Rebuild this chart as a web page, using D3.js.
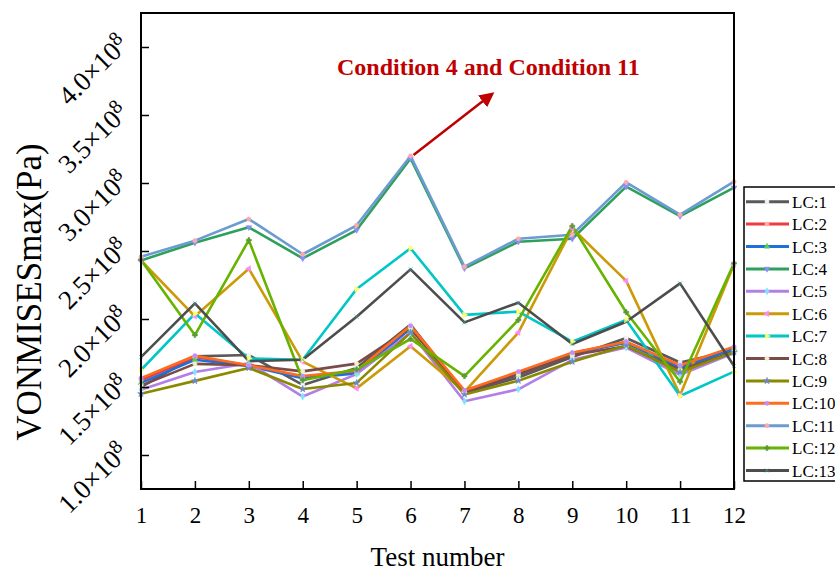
<!DOCTYPE html>
<html>
<head>
<meta charset="utf-8">
<script src="https://cdn.jsdelivr.net/npm/d3@7/dist/d3.min.js"></script>
<style>
  html, body { margin: 0; padding: 0; background: #fff; }
  svg { display: block; }
  text { font-family: "Liberation Serif", "Times New Roman", serif; }
</style>
</head>
<body>
<svg id="chart" width="835" height="572"></svg>
<script>
// Test numbers along the x axis
const tests = [1, 2, 3, 4, 5, 6, 7, 8, 9, 10, 11, 12];

// Maximum von Mises stress per load case, in units of 1e8 Pa
const LC1  = [1.50, 1.725, 1.735, 1.515, 1.64, 1.96, 1.455, 1.57, 1.72, 1.86, 1.68, 1.77];
const LC2  = [1.55, 1.72, 1.66, 1.57, 1.61, 1.945, 1.47, 1.605, 1.75, 1.83, 1.655, 1.79];
const LC3  = [1.53, 1.70, 1.655, 1.565, 1.60, 1.93, 1.465, 1.59, 1.745, 1.825, 1.64, 1.78];
const LC4  = [2.43, 2.561, 2.674, 2.446, 2.654, 3.18, 2.373, 2.568, 2.59, 2.973, 2.757, 2.966];
const LC5  = [1.48, 1.61, 1.675, 1.43, 1.595, 1.90, 1.395, 1.483, 1.70, 1.79, 1.59, 1.75];
const LC6  = [2.43, 2.02, 2.37, 1.686, 1.49, 1.80, 1.465, 1.90, 2.667, 2.28, 1.44, 2.40];
const LC7  = [1.625, 2.04, 1.71, 1.70, 2.22, 2.52, 2.03, 2.054, 1.833, 1.993, 1.434, 1.613];
const LC8  = [1.51, 1.67, 1.66, 1.615, 1.672, 1.935, 1.46, 1.59, 1.735, 1.80, 1.625, 1.76];
const LC9  = [1.45, 1.545, 1.64, 1.485, 1.53, 1.90, 1.445, 1.546, 1.686, 1.805, 1.61, 1.755];
const LC10 = [1.565, 1.73, 1.66, 1.58, 1.62, 1.95, 1.475, 1.613, 1.752, 1.833, 1.66, 1.797];
const LC11 = [2.458, 2.576, 2.735, 2.476, 2.689, 3.199, 2.385, 2.59, 2.62, 3.005, 2.767, 3.01];
const LC12 = [2.434, 1.882, 2.58, 1.55, 1.63, 1.853, 1.58, 1.993, 2.684, 2.05, 1.539, 2.41];
const LC13 = [1.72, 2.115, 1.69, 1.70, 2.017, 2.365, 1.975, 2.12, 1.816, 1.98, 2.262, 1.655];

const seriesNames = ["LC:1", "LC:2", "LC:3", "LC:4", "LC:5", "LC:6", "LC:7",
                     "LC:8", "LC:9", "LC:10", "LC:11", "LC:12", "LC:13"];
const seriesValues = [LC1, LC2, LC3, LC4, LC5, LC6, LC7, LC8, LC9, LC10, LC11, LC12, LC13];
const seriesColors = ["#595959", "#ef3b3b", "#1f6fdc", "#2f9f5c", "#b37fe4", "#cc9a08",
                      "#00c6c6", "#7a4c48", "#8a8a00", "#ff6b1f", "#6b9bd1", "#66b300", "#4d4d4d"];
const markerFills  = ["#f4f4f4", "#ffb0b0", "#55d055", "#8c8cff", "#7fe4ff", "#ff88ff",
                      "#ffff70", "#f2f0c8", "#6f86c8", "#c48cff", "#ffa8a8", "#5a9a3a", "#45a8a8"];
const markerShapes = [d3.symbolSquare, d3.symbolCircle, d3.symbolTriangle, d3.symbolTriangle,
                      d3.symbolDiamond, d3.symbolTriangle, d3.symbolTriangle, d3.symbolCircle,
                      d3.symbolStar, d3.symbolCircle, d3.symbolCircle, d3.symbolCross, d3.symbolX];
const markerRotate = [0, 0, 0, 180, 0, -90, 90, 0, 0, 0, 0, 0, 0];

const yTicks = [1.0, 1.5, 2.0, 2.5, 3.0, 3.5, 4.0];
const annotation = "Condition 4 and Condition 11";

const svg = d3.select("#chart");
const plot = { left: 141, right: 734, top: 13, bottom: 489 };

const x = d3.scaleLinear().domain([1, 12]).range([plot.left, plot.right]);
const y = d3.scaleLinear().domain([0.75, 4.25]).range([plot.bottom, plot.top]);

// Series lines
const line = d3.line().x((d, i) => x(tests[i])).y(d => y(d));
const gSeries = svg.append("g");
seriesValues.forEach((vals, k) => {
  gSeries.append("path")
    .datum(vals)
    .attr("d", line)
    .attr("fill", "none")
    .attr("stroke", seriesColors[k])
    .attr("stroke-width", 2.6)
    .attr("stroke-linejoin", "round");
});
// Small point markers
seriesValues.forEach((vals, k) => {
  const sym = d3.symbol().type(markerShapes[k]).size(14);
  gSeries.selectAll(null)
    .data(vals)
    .join("path")
    .attr("d", sym)
    .attr("transform", (d, i) => `translate(${x(tests[i])},${y(d)}) rotate(${markerRotate[k]})`)
    .attr("fill", markerFills[k])
    .attr("stroke", markerFills[k])
    .attr("stroke-width", 0.6);
});

// Frame
svg.append("rect")
  .attr("x", plot.left).attr("y", plot.top)
  .attr("width", plot.right - plot.left).attr("height", plot.bottom - plot.top)
  .attr("fill", "none").attr("stroke", "#000").attr("stroke-width", 2);

// X axis: inward ticks
const xAxis = d3.axisBottom(x).tickValues(tests).tickSize(-8).tickPadding(18).tickFormat(d3.format("d"));
const gx = svg.append("g").attr("transform", `translate(0,${plot.bottom})`).call(xAxis);
gx.select(".domain").remove();
gx.selectAll(".tick line").attr("stroke", "#000").attr("stroke-width", 1.5);
gx.selectAll(".tick text")
  .attr("font-size", 23).attr("fill", "#000")
  .attr("font-family", "Liberation Serif, Times New Roman, serif");

// Y axis: inward ticks, rotated labels in scientific notation
const yAxis = d3.axisLeft(y).tickValues(yTicks).tickSize(-8).tickFormat("");
const gy = svg.append("g").attr("transform", `translate(${plot.left},0)`).call(yAxis);
gy.select(".domain").remove();
gy.selectAll(".tick line").attr("stroke", "#000").attr("stroke-width", 1.5);

const gyl = svg.append("g");
yTicks.forEach(t => {
  const txt = gyl.append("text")
    .attr("text-anchor", "end")
    .attr("font-size", 27)
    .attr("fill", "#000")
    .attr("transform", `translate(130,${y(t) - 1}) rotate(-45)`);
  txt.append("tspan").text(`${t.toFixed(1)}\u00d710`);
  txt.append("tspan").attr("font-size", 20).attr("dy", -9).text("8");
});

// Axis titles
svg.append("text")
  .attr("x", (plot.left + plot.right) / 2).attr("y", 566)
  .attr("text-anchor", "middle").attr("font-size", 27).attr("fill", "#000")
  .text("Test number");
svg.append("text")
  .attr("transform", `translate(41,292) rotate(-90)`)
  .attr("text-anchor", "middle").attr("font-size", 35).attr("fill", "#000")
  .text("VONMISESmax(Pa)");

// Annotation with arrow
const defs = svg.append("defs");
defs.append("marker")
  .attr("id", "arrowHead")
  .attr("viewBox", "0 0 10 10").attr("refX", 8).attr("refY", 5)
  .attr("markerWidth", 6).attr("markerHeight", 6).attr("orient", "auto")
  .append("path").attr("d", "M0,0 L10,5 L0,10 Z").attr("fill", "#c00000");
svg.append("line")
  .attr("x1", x(6) + 3).attr("y1", y(3.199) - 1)
  .attr("x2", 492).attr("y2", 94)
  .attr("stroke", "#c00000").attr("stroke-width", 2.5)
  .attr("marker-end", "url(#arrowHead)");
svg.append("text")
  .attr("x", 337).attr("y", 75)
  .attr("font-size", 24).attr("font-weight", "bold").attr("fill", "#c00000")
  .text(annotation);

// Legend
const lg = svg.append("g");
lg.append("rect")
  .attr("x", 744).attr("y", 187).attr("width", 110).attr("height", 294)
  .attr("fill", "#fff").attr("stroke", "#000").attr("stroke-width", 1.5);
seriesNames.forEach((name, k) => {
  const yy = 201.7 + k * 22.4;
  lg.append("line")
    .attr("x1", 746).attr("x2", 789).attr("y1", yy).attr("y2", yy)
    .attr("stroke", seriesColors[k]).attr("stroke-width", 3);
  lg.append("path")
    .attr("d", d3.symbol().type(markerShapes[k]).size(14))
    .attr("transform", `translate(767,${yy}) rotate(${markerRotate[k]})`)
    .attr("fill", markerFills[k]).attr("stroke", markerFills[k]).attr("stroke-width", 0.6);
  lg.append("text")
    .attr("x", 792).attr("y", yy + 6)
    .attr("font-size", 17).attr("fill", "#000")
    .text(name);
});
</script>
</body>
</html>
